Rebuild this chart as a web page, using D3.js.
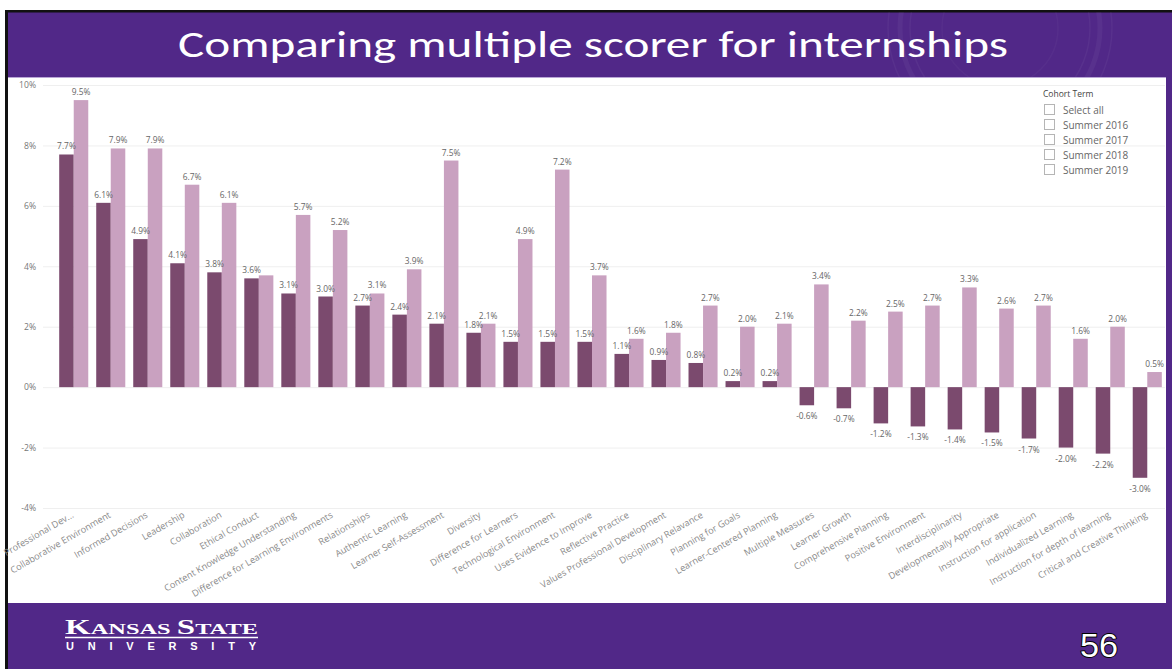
<!DOCTYPE html>
<html>
<head>
<meta charset="utf-8">
<script src="https://cdn.jsdelivr.net/npm/d3@7"></script>
<style>
  html, body { margin: 0; padding: 0; background: #ffffff; }
  svg { display: block; }
</style>
</head>
<body>
<svg id="slide" width="1172" height="669"></svg>
<script>
// Competency categories, in display order
const categories = [
  "Professional Dev...", "Collaborative Environment", "Informed Decisions", "Leadership",
  "Collaboration", "Ethical Conduct", "Content Knowledge Understanding",
  "Difference for Learning Environments", "Relationships", "Authentic Learning",
  "Learner Self-Assessment", "Diversity", "Difference for Learners",
  "Technological Environment", "Uses Evidence to Improve", "Reflective Practice",
  "Values Professional Development", "Disciplinary Relavance", "Planning for Goals",
  "Learner-Centered Planning", "Multiple Measures", "Learner Growth",
  "Comprehensive Planning", "Positive Environment", "Interdisciplinarity",
  "Developmentally Appropriate", "Instruction for application", "Individualized Learning",
  "Instruction for depth of learning", "Critical and Creative Thinking"
];

// First series (dark bars), percent
const seriesA = [7.7, 6.1, 4.9, 4.1, 3.8, 3.6, 3.1, 3.0, 2.7, 2.4, 2.1, 1.8, 1.5, 1.5, 1.5,
  1.1, 0.9, 0.8, 0.2, 0.2, -0.6, -0.7, -1.2, -1.3, -1.4, -1.5, -1.7, -2.0, -2.2, -3.0];

// Second series (light bars), percent
const seriesB = [9.5, 7.9, 7.9, 6.7, 6.1, 3.7, 5.7, 5.2, 3.1, 3.9, 7.5, 2.1, 4.9, 7.2, 3.7,
  1.6, 1.8, 2.7, 2.0, 2.1, 3.4, 2.2, 2.5, 2.7, 3.3, 2.6, 2.7, 1.6, 2.0, 0.5];

// Data labels hidden by the visual where they would collide
const hiddenLabelsB = ["Ethical Conduct"];

const yTicks = [-4, -2, 0, 2, 4, 6, 8, 10];
const legendTitle = "Cohort Term";
const legendItems = ["Select all", "Summer 2016", "Summer 2017", "Summer 2018", "Summer 2019"];

const titleText = "Comparing multiple scorer for internships";
const pageNumber = "56";

const PURPLE = "#512888";
const DARK = "#7b4a6e";
const LIGHT = "#c9a1c0";
const FONT = "'Open Sans', 'Noto Sans', sans-serif";

const svg = d3.select("#slide");

// ---- slide frame ----
svg.append("rect").attr("x", 0).attr("y", 0).attr("width", 1172).attr("height", 669).attr("fill", "#ffffff");
svg.append("rect").attr("x", 5).attr("y", 10).attr("width", 1167).attr("height", 659).attr("fill", PURPLE);
// top and left black rules
svg.append("rect").attr("x", 5).attr("y", 10).attr("width", 1167).attr("height", 2.5).attr("fill", "#111");
svg.append("rect").attr("x", 5).attr("y", 10).attr("width", 3).attr("height", 659).attr("fill", "#111");

// faint seal in the banner
const banner = svg.append("g");
banner.append("clipPath").attr("id", "bannerClip")
  .append("rect").attr("x", 8).attr("y", 12).attr("width", 1164).attr("height", 65);
const seal = banner.append("g").attr("clip-path", "url(#bannerClip)");
[112, 100, 90, 58].forEach((r, i) => {
  seal.append("circle").attr("cx", 1000).attr("cy", 28).attr("r", r)
    .attr("fill", "none").attr("stroke", "#ffffff")
    .attr("stroke-opacity", i === 3 ? 0.03 : 0.045).attr("stroke-width", i === 1 ? 5 : 1.5);
});

// title
svg.append("text")
  .attr("x", 178).attr("y", 57)
  .attr("textLength", 830).attr("lengthAdjust", "spacingAndGlyphs")
  .attr("font-family", "Carlito, 'Open Sans', sans-serif")
  .attr("font-size", 37).attr("fill", "#ffffff")
  .text(titleText);

// white content panel
svg.append("rect").attr("x", 8).attr("y", 77).attr("width", 1158).attr("height", 526).attr("fill", "#ffffff");
svg.append("line").attr("x1", 8).attr("x2", 1166).attr("y1", 77.5).attr("y2", 77.5)
  .attr("stroke", "#b9a6d6").attr("stroke-width", 1);

// ---- chart ----
const x0 = d3.scaleBand().domain(categories).range([55.5, 1165.5]).paddingInner(0.215).paddingOuter(0.1);
const x1 = d3.scaleBand().domain(["A", "B"]).range([0, x0.bandwidth()]);
const y = d3.scaleLinear().domain([-4, 10]).range([508, 85]);

const chart = svg.append("g");

// gridlines
chart.append("g").selectAll("line").data(yTicks).join("line")
  .attr("x1", 43).attr("x2", 1165)
  .attr("y1", d => y(d) + 0.5).attr("y2", d => y(d) + 0.5)
  .attr("stroke", "#efefef").attr("stroke-width", 1);

// y axis labels
const yAxis = d3.axisLeft(y).tickValues(yTicks).tickFormat(d => d + "%").tickSize(0).tickPadding(0);
const yg = chart.append("g").attr("transform", "translate(36,0)").call(yAxis);
yg.select(".domain").remove();
yg.selectAll("text").attr("font-family", FONT).attr("font-size", 8.6).attr("fill", "#777");

const rows = categories.map((c, i) => ({ c, a: seriesA[i], b: seriesB[i] }));

const groups = chart.append("g").selectAll("g").data(rows).join("g")
  .attr("transform", d => `translate(${x0(d.c)},0)`);

groups.append("rect")
  .attr("x", x1("A")).attr("width", x1.bandwidth())
  .attr("y", d => y(Math.max(0, d.a)))
  .attr("height", d => Math.abs(y(d.a) - y(0)))
  .attr("fill", DARK);

groups.append("rect")
  .attr("x", x1("B")).attr("width", x1.bandwidth())
  .attr("y", d => y(Math.max(0, d.b)))
  .attr("height", d => Math.abs(y(d.b) - y(0)))
  .attr("fill", LIGHT);

const fmt = v => v.toFixed(1) + "%";

groups.append("text")
  .attr("x", x1("A") + x1.bandwidth() / 2)
  .attr("y", d => d.a >= 0 ? y(d.a) - 5 : y(d.a) + 14)
  .attr("text-anchor", "middle")
  .attr("font-family", FONT).attr("font-size", 8.4).attr("fill", "#666")
  .text(d => fmt(d.a));

groups.filter(d => !hiddenLabelsB.includes(d.c)).append("text")
  .attr("x", x1("B") + x1.bandwidth() / 2)
  .attr("y", d => y(d.b) - 5)
  .attr("text-anchor", "middle")
  .attr("font-family", FONT).attr("font-size", 8.4).attr("fill", "#666")
  .text(d => fmt(d.b));

// category axis, rotated labels
const xAxis = d3.axisBottom(x0).tickSize(0).tickPadding(0);
const xg = chart.append("g").attr("transform", "translate(0,514)").call(xAxis);
xg.select(".domain").remove();
xg.selectAll("text")
  .attr("font-family", FONT).attr("font-size", 9.2).attr("fill", "#8a8a8a")
  .attr("text-anchor", "end")
  .attr("dy", "0.35em")
  .attr("transform", "translate(-1,0) rotate(-30)");

// ---- slicer legend ----
const legend = svg.append("g").attr("transform", "translate(1043,0)");
legend.append("text").attr("x", 0).attr("y", 97)
  .attr("font-family", FONT).attr("font-size", 8.5).attr("fill", "#444").text(legendTitle);
const li = legend.selectAll("g.item").data(legendItems).join("g")
  .attr("class", "item")
  .attr("transform", (d, i) => `translate(0,${110 + i * 15})`);
li.append("rect").attr("x", 1.5).attr("y", -5.5).attr("width", 10).attr("height", 10)
  .attr("fill", "#fff").attr("stroke", "#b5b5b5").attr("stroke-width", 1);
li.append("text").attr("x", 20).attr("y", 3.5)
  .attr("font-family", FONT).attr("font-size", 10).attr("fill", "#666").text(d => d);

// ---- footer ----
const logo = svg.append("g");
const ks = logo.append("text").attr("x", 65).attr("y", 634)
  .attr("textLength", 193).attr("lengthAdjust", "spacingAndGlyphs")
  .attr("font-family", "'Liberation Serif', 'DejaVu Serif', serif")
  .attr("font-weight", "bold").attr("fill", "#ffffff");
ks.append("tspan").attr("font-size", 21).text("K");
ks.append("tspan").attr("font-size", 15.5).text("ANSAS ");
ks.append("tspan").attr("font-size", 21).text("S");
ks.append("tspan").attr("font-size", 15.5).text("TATE");
logo.append("line").attr("x1", 65).attr("x2", 258).attr("y1", 637.5).attr("y2", 637.5)
  .attr("stroke", "#ffffff").attr("stroke-width", 1.4);
logo.append("text").attr("x", 66).attr("y", 649.5)
  .attr("textLength", 190).attr("lengthAdjust", "spacing")
  .attr("font-family", "'Liberation Sans', Arial, sans-serif")
  .attr("font-weight", "bold").attr("font-size", 11).attr("fill", "#ffffff")
  .text("UNIVERSITY");

svg.append("text").attr("x", 1080).attr("y", 657)
  .attr("textLength", 38).attr("lengthAdjust", "spacingAndGlyphs")
  .attr("font-family", "'Liberation Sans Narrow', 'Liberation Sans', sans-serif")
  .attr("font-size", 33).attr("fill", "#ffffff")
  .attr("stroke", "#000").attr("stroke-width", 1.8).attr("paint-order", "stroke")
  .text(pageNumber);
</script>
</body>
</html>
